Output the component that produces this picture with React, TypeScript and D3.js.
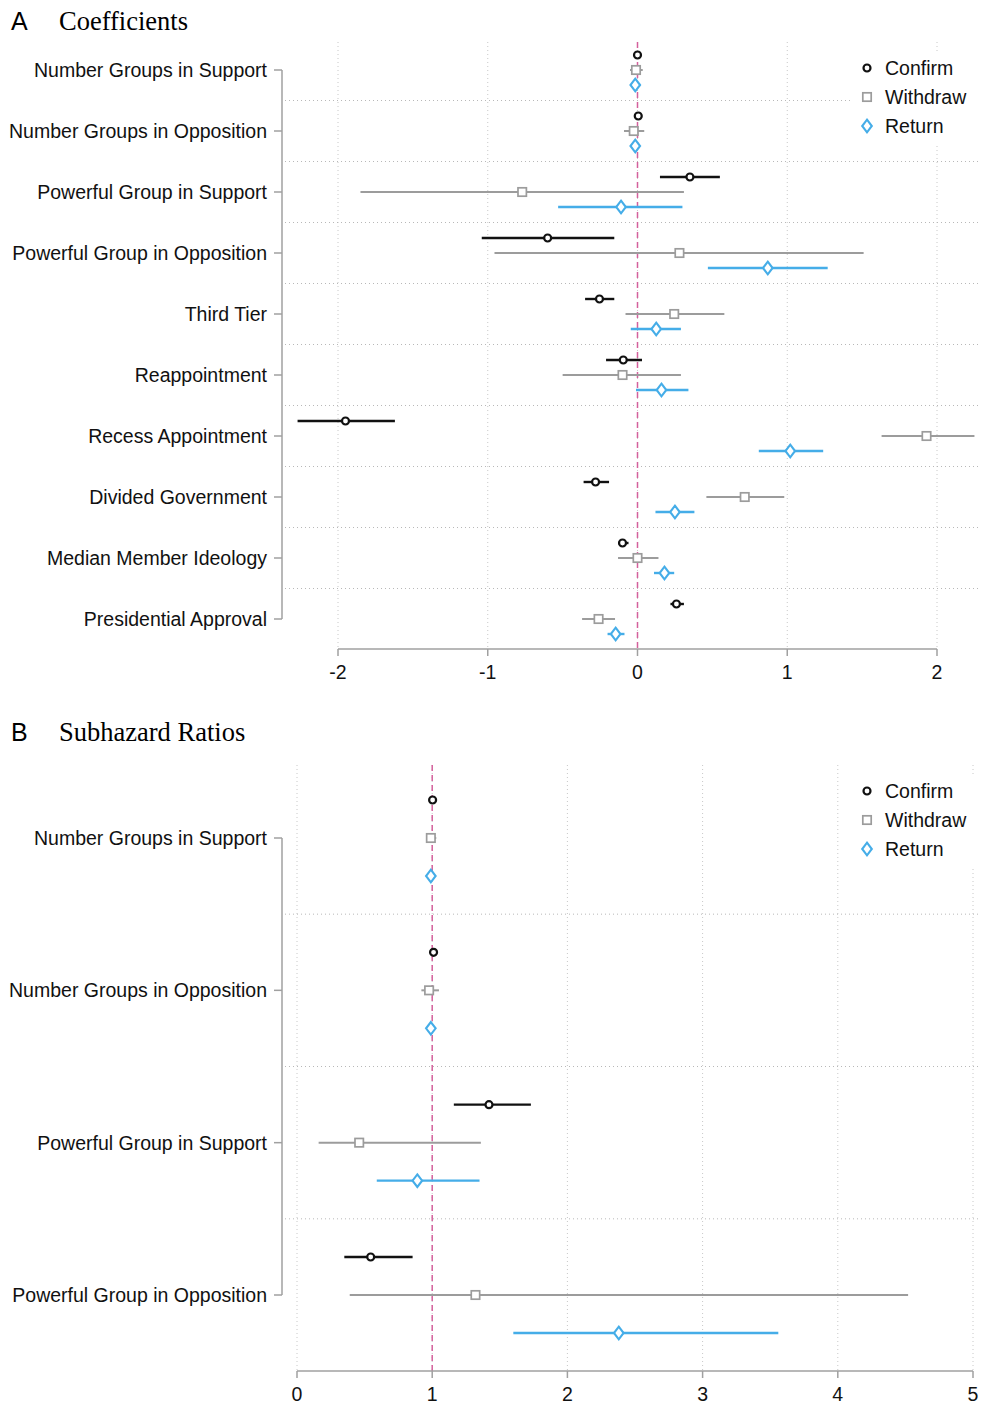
import React from 'react'
import * as d3 from 'd3'

// panel A: coefficients, [estimate, lower, upper]
const categoriesA = [
  'Number Groups in Support',
  'Number Groups in Opposition',
  'Powerful Group in Support',
  'Powerful Group in Opposition',
  'Third Tier',
  'Reappointment',
  'Recess Appointment',
  'Divided Government',
  'Median Member Ideology',
  'Presidential Approval',
]
const confirmA = [
  [0.0, -0.01, 0.01], [0.005, -0.005, 0.015], [0.35, 0.15, 0.55], [-0.6, -1.04, -0.155],
  [-0.254, -0.35, -0.155], [-0.095, -0.21, 0.03], [-1.95, -2.27, -1.62], [-0.28, -0.36, -0.19],
  [-0.1, -0.13, -0.06], [0.26, 0.22, 0.31],
]
const withdrawA = [
  [-0.01, -0.05, 0.035], [-0.025, -0.09, 0.045], [-0.77, -1.85, 0.31], [0.28, -0.955, 1.51],
  [0.245, -0.08, 0.58], [-0.1, -0.5, 0.29], [1.93, 1.63, 2.25], [0.716, 0.46, 0.98],
  [0.0, -0.13, 0.14], [-0.26, -0.37, -0.15],
]
const returnA = [
  [-0.015, -0.045, 0.02], [-0.015, -0.045, 0.015], [-0.11, -0.53, 0.3], [0.87, 0.47, 1.27],
  [0.125, -0.045, 0.29], [0.16, -0.01, 0.34], [1.02, 0.81, 1.24], [0.25, 0.12, 0.38],
  [0.18, 0.11, 0.245], [-0.146, -0.2, -0.087],
]
const ticksA = [-2, -1, 0, 1, 2]

// panel B: subhazard ratios
const categoriesB = categoriesA.slice(0, 4)
const confirmB = [[1.003, 0.99, 1.015], [1.01, 0.995, 1.02], [1.42, 1.16, 1.73], [0.545, 0.35, 0.855]]
const withdrawB = [[0.99, 0.96, 1.03], [0.977, 0.92, 1.05], [0.46, 0.16, 1.36], [1.32, 0.39, 4.52]]
const returnB = [[0.99, 0.965, 1.015], [0.99, 0.965, 1.015], [0.89, 0.59, 1.35], [2.38, 1.6, 3.56]]
const ticksB = [0, 1, 2, 3, 4, 5]

const seriesNames = ['Confirm', 'Withdraw', 'Return']
const colors = ['#111111', '#9c9c9c', '#45ade8']
const sans = 'Liberation Sans, Arial, sans-serif'
const serif = 'Liberation Serif, Times New Roman, serif'

const Marker = ({ kind, x, y, color }) => {
  if (kind === 0) return <circle cx={x} cy={y} r={3.5} fill="white" stroke={color} strokeWidth={2.2} />
  if (kind === 1) return <rect x={x - 4.2} y={y - 4.2} width={8.4} height={8.4} fill="white" stroke={color} strokeWidth={1.7} />
  return <path d={`M${x},${y - 6.3}L${x + 4.8},${y}L${x},${y + 6.3}L${x - 4.8},${y}Z`} fill="white" stroke={color} strokeWidth={2.1} />
}

const Legend = ({ x, y }) => (
  <g>
    <rect x={x - 15} y={y - 16} width={130} height={92} fill="white" />
    {seriesNames.map((s, i) => (
      <g key={s}>
        <Marker kind={i} x={x} y={y + i * 29} color={colors[i]} />
        <text x={x + 18} y={y + i * 29 + 7} fontSize={19.5} fontFamily={sans} fill="#111">{s}</text>
      </g>
    ))}
  </g>
)

const Panel = ({ letter, title, titleY, cats, series, ticks, xDom, xRange, yRange, off, gridTop, axisY, refVal, legendY }) => {
  const x = d3.scaleLinear().domain(xDom).range(xRange)
  const y = d3.scalePoint().domain(cats).range(yRange)
  const step = y.step()
  const seps = cats.slice(1).map((c) => y(c) - step / 2)
  const strokeW = [2.4, 2, 2.4]
  return (
    <g>
      <text x={11} y={titleY} fontSize={25} fontFamily={sans} fill="#000">{letter}</text>
      <text x={59} y={titleY} fontSize={26.5} fontFamily={serif} fill="#000">{title}</text>
      {ticks.map((t) => (
        <line key={`g${t}`} x1={x(t)} x2={x(t)} y1={gridTop} y2={axisY} stroke="#c8c8c8" strokeWidth={1} strokeDasharray="1,3" />
      ))}
      {seps.map((s, i) => (
        <line key={`s${i}`} x1={285} x2={980} y1={s} y2={s} stroke="#b8b8b8" strokeWidth={1} strokeDasharray="1,3" />
      ))}
      <Legend x={867} y={legendY} />
      <line x1={x(refVal)} x2={x(refVal)} y1={gridTop} y2={axisY} stroke="#d4609c" strokeWidth={1.5} strokeDasharray="6,4" />
      {series.map((ser, si) => ser.map((d, i) => {
        const cy = y(cats[i]) + (si - 1) * off
        return (
          <g key={`${si}-${i}`}>
            <line x1={x(d[1])} x2={x(d[2])} y1={cy} y2={cy} stroke={colors[si]} strokeWidth={strokeW[si]} />
            <Marker kind={si} x={x(d[0])} y={cy} color={colors[si]} />
          </g>
        )
      }))}
      <line x1={282} x2={282} y1={yRange[0]} y2={yRange[1]} stroke="#a0a0a0" strokeWidth={1.5} />
      {cats.map((c) => (
        <g key={c}>
          <line x1={274} x2={282} y1={y(c)} y2={y(c)} stroke="#a0a0a0" strokeWidth={1.5} />
          <text x={267} y={y(c) + 7} textAnchor="end" fontSize={19.5} fontFamily={sans} fill="#111">{c}</text>
        </g>
      ))}
      <line x1={x(ticks[0])} x2={x(ticks[ticks.length - 1])} y1={axisY} y2={axisY} stroke="#a0a0a0" strokeWidth={1.5} />
      {ticks.map((t) => (
        <g key={`t${t}`}>
          <line x1={x(t)} x2={x(t)} y1={axisY} y2={axisY + 7} stroke="#a0a0a0" strokeWidth={1.5} />
          <text x={x(t)} y={axisY + 30} textAnchor="middle" fontSize={19.5} fontFamily={sans} fill="#111">{t}</text>
        </g>
      ))}
    </g>
  )
}

export default function App() {
  return (
    <svg width={982} height={1405} style={{ position: 'absolute', left: 0, top: 0, background: 'white' }}>
      <Panel letter="A" title="Coefficients" titleY={30} cats={categoriesA}
        series={[confirmA, withdrawA, returnA]} ticks={ticksA} xDom={[-2, 2]} xRange={[338, 937]}
        yRange={[70, 619]} off={15} gridTop={42} axisY={649} refVal={0} legendY={68} />
      <Panel letter="B" title="Subhazard Ratios" titleY={741} cats={categoriesB}
        series={[confirmB, withdrawB, returnB]} ticks={ticksB} xDom={[0, 5]} xRange={[297, 973]}
        yRange={[838, 1295]} off={38} gridTop={765} axisY={1371} refVal={1} legendY={791} />
    </svg>
  )
}
